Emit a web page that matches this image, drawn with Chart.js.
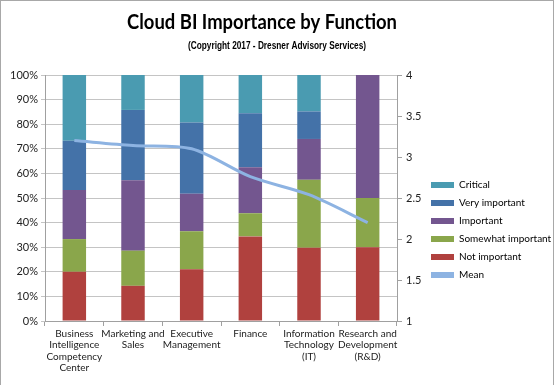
<!DOCTYPE html>
<html>
<head>
<meta charset="utf-8">
<script src="https://cdn.jsdelivr.net/npm/chart.js@4.4.0/dist/chart.umd.min.js"></script>
<style>
  html, body { margin: 0; padding: 0; background: #fff; }
  #wrap {
    width: 554px; height: 385px; box-sizing: border-box;
    border: 1px solid #a8a8a8; border-bottom: none; background: #fff;
  }
  #wrap canvas { display: block; }
</style>
</head>
<body>
<div id="wrap"><canvas id="chart" width="552" height="384"></canvas></div>
<script>
// Cloud BI importance by function -- stacked % bars plus mean (right axis)
var functions = [
  ['Business', 'Intelligence', 'Competency', 'Center'],
  ['Marketing and', 'Sales'],
  ['Executive', 'Management'],
  'Finance',
  ['Information', 'Technology', '(IT)'],
  ['Research and', 'Development', '(R&D)']
];

// share of respondents, %
var notImportant      = [20.0, 14.3, 21.0, 34.4, 29.8, 30.0];
var somewhatImportant = [13.3, 14.3, 15.5,  9.4, 27.6, 20.0];
var important         = [20.0, 28.6, 15.2, 18.7, 16.6, 50.0];
var veryImportant     = [20.0, 28.6, 29.0, 22.0, 11.2,  0.0];
var critical          = [26.7, 14.2, 19.3, 15.5, 14.8,  0.0];

// mean score (right axis)
var meanScore = [3.20, 3.14, 3.10, 2.76, 2.54, 2.20];

var pctTicks = [0, 10, 20, 30, 40, 50, 60, 70, 80, 90, 100];
var meanTicks = [1, 1.5, 2, 2.5, 3, 3.5, 4];

var COLORS = {
  critical: '#4a9bb1',
  very: '#4472a8',
  important: '#73568f',
  somewhat: '#8aa64b',
  not: '#b0413e',
  mean: '#8db3e2'
};

var GRID = '#c4c4c4';
var TICK_FONT = { family: 'Lato', size: 11 };
var LEGEND_WIDTH = 130;

// legend order is Critical first, Mean last
var legendOrder = ['Critical', 'Very important', 'Important', 'Somewhat important', 'Not important', 'Mean'];

function barSet(label, data, color) {
  return {
    type: 'bar', label: label, data: data,
    backgroundColor: color, borderWidth: 0,
    yAxisID: 'y', stack: 'imp', order: 1,
    categoryPercentage: 0.8, barPercentage: 0.5
  };
}

// title + copyright line, placed like the Excel original
var titlePlugin = {
  id: 'excelTitle',
  afterDraw: function(chart) {
    var ctx = chart.ctx;
    ctx.save();
    ctx.fillStyle = '#000';
    ctx.textAlign = 'center';
    ctx.textBaseline = 'middle';
    ctx.font = 'bold 20px Lato';
    ctx.fillText('Cloud BI Importance by Function', 261, 22, 270);
    ctx.font = 'bold 10px "Liberation Sans"';
    ctx.fillText('(Copyright 2017 - Dresner Advisory Services)', 276, 45, 178);
    ctx.restore();
  }
};

// the layout caps side boxes at a small width; give the legend room for its text
var legendWidthPlugin = {
  id: 'legendWidth',
  beforeLayout: function(chart) {
    var lg = chart.legend;
    if (!lg || lg._wide) return;
    var fit = lg.fit;
    lg.fit = function() { fit.call(this); this.width = LEGEND_WIDTH; };
    lg._wide = true;
  }
};

new Chart(document.getElementById('chart').getContext('2d'), {
  data: {
    labels: functions,
    datasets: [
      barSet('Not important', notImportant, COLORS.not),
      barSet('Somewhat important', somewhatImportant, COLORS.somewhat),
      barSet('Important', important, COLORS.important),
      barSet('Very important', veryImportant, COLORS.very),
      barSet('Critical', critical, COLORS.critical),
      {
        type: 'line', label: 'Mean', data: meanScore,
        borderColor: COLORS.mean, backgroundColor: COLORS.mean,
        borderWidth: 3, pointRadius: 0, tension: 0.3,
        yAxisID: 'y1', order: 0
      }
    ]
  },
  options: {
    responsive: false, animation: false,
    layout: { padding: { top: 74, left: 0, right: 0, bottom: 0 } },
    plugins: {
      tooltip: { enabled: false },
      legend: {
        position: 'right',
        labels: {
          font: { family: 'Lato', size: 10 }, color: '#111',
          boxWidth: 23, boxHeight: 6, padding: 8,
          sort: function(a, b) { return legendOrder.indexOf(a.text) - legendOrder.indexOf(b.text); },
          generateLabels: function(chart) {
            return chart.data.datasets.map(function(ds, i) {
              return { text: ds.label, fillStyle: ds.type === 'line' ? ds.borderColor : ds.backgroundColor,
                strokeStyle: 'transparent', lineWidth: 0, datasetIndex: i, hidden: false };
            });
          }
        }
      }
    },
    scales: {
      x: {
        stacked: true,
        grid: { display: true, drawOnChartArea: false, offset: true, color: '#a0a0a0', tickLength: 5 },
        border: { color: '#a0a0a0' },
        ticks: { font: { family: 'Lato', size: 10, lineHeight: 1.15 }, color: '#222', padding: 2, maxRotation: 0, autoSkip: false },
        afterFit: function(s) { s.height = 64; }
      },
      y: {
        stacked: true, position: 'left', min: 0, max: 100,
        afterBuildTicks: function(s) { s.ticks = pctTicks.map(function(v) { return { value: v }; }); },
        ticks: { font: TICK_FONT, color: '#222', padding: 3, callback: function(v) { return v + '%'; } },
        grid: { color: GRID, tickLength: 4 },
        border: { color: '#a0a0a0' },
        afterFit: function(s) { s.width = 44; }
      },
      y1: {
        position: 'right', min: 1, max: 4,
        afterBuildTicks: function(s) { s.ticks = meanTicks.map(function(v) { return { value: v }; }); },
        ticks: { font: TICK_FONT, color: '#222', padding: 4, callback: function(v) { return String(v); } },
        grid: { drawOnChartArea: false, color: '#a0a0a0', tickLength: 5 },
        border: { color: '#a0a0a0' },
        afterFit: function(s) { s.width = 26; }
      }
    }
  },
  plugins: [titlePlugin, legendWidthPlugin]
});
</script>
</body>
</html>
